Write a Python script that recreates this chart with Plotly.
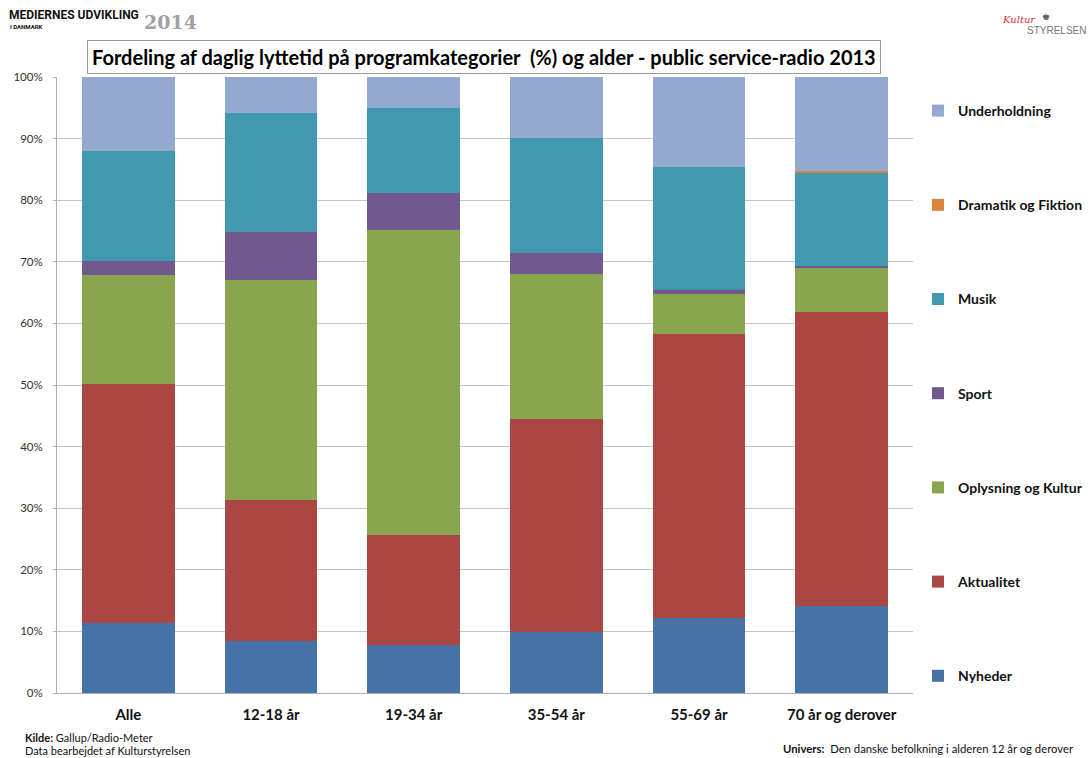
import plotly.graph_objects as go

# Age groups and the share (%) of daily listening time per programme category
groups = ["Alle", "12-18 år", "19-34 år", "35-54 år", "55-69 år", "70 år og derover"]

nyheder = [11.3, 8.4, 7.8, 9.9, 12.2, 14.1]
aktualitet = [38.8, 22.9, 17.8, 34.6, 46.1, 47.7]
oplysning = [17.8, 35.7, 49.5, 23.5, 6.4, 7.2]
sport = [2.3, 7.9, 6.1, 3.4, 0.8, 0.3]
musik = [17.8, 19.3, 13.7, 18.7, 19.9, 15.2]
dramatik = [0.0, 0.0, 0.0, 0.0, 0.0, 0.2]
underholdning = [12.0, 5.8, 5.1, 9.9, 14.6, 15.3]

y_ticks = [0, 10, 20, 30, 40, 50, 60, 70, 80, 90, 100]
y_tick_labels = [f"{v}%" for v in y_ticks]

series = [
    ("Nyheder", nyheder, "#4572a7"),
    ("Aktualitet", aktualitet, "#aa4643"),
    ("Oplysning og Kultur", oplysning, "#89a54e"),
    ("Sport", sport, "#71588f"),
    ("Musik", musik, "#4198af"),
    ("Dramatik og Fiktion", dramatik, "#db843d"),
    ("Underholdning", underholdning, "#93a9cf"),
]

fig = go.Figure()
n = len(series)
for i, (name, vals, color) in enumerate(series):
    fig.add_trace(go.Bar(
        x=groups, y=vals, name=name, legendgroup=name,
        legendrank=n - i,  # top of the stack listed first
        marker=dict(color=color, line=dict(width=0)),
        hovertemplate="%{x}: %{y:.1f}%<extra>" + name + "</extra>",
    ))

W, H = 1091, 758
L, R, T, B = 57, 178, 77, 65
PW = W - L - R


def px_x(x):
    """Horizontal page pixel -> paper coordinate."""
    return (x - L) / PW


fig.update_layout(
    width=W, height=H,
    margin=dict(l=L, r=R, t=T, b=B, autoexpand=False),
    barmode="stack",
    bargap=0.35,
    paper_bgcolor="white",
    plot_bgcolor="white",
    font=dict(family="Lato, 'Open Sans', sans-serif", color="#000000"),
    legend=dict(
        x=px_x(918), xanchor="left", y=1 - (95 - T) / (H - T - B), yanchor="top",
        traceorder="grouped",
        tracegroupgap=73,
        font=dict(size=14, color="#111111", weight="bold"),
        itemwidth=30,
        bgcolor="rgba(0,0,0,0)",
    ),
    xaxis=dict(
        tickfont=dict(size=15, color="#111111", weight="bold"),
        showline=True, linecolor="#b0b0b0", linewidth=1,
        ticks="", showgrid=False, ticklabelstandoff=8,
    ),
    yaxis=dict(
        range=[0, 100],
        tickvals=y_ticks, ticktext=y_tick_labels,
        tickfont=dict(size=11.5, color="#333333"),
        showgrid=True, gridcolor="#c4c4c4", gridwidth=1,
        showline=True, linecolor="#b0b0b0", linewidth=1,
        ticks="outside", ticklen=3, tickcolor="#b0b0b0",
        ticklabelstandoff=8,
        zeroline=False,
    ),
)

# Boxed chart title
fig.add_annotation(
    xref="paper", yref="paper", x=px_x(484), y=1.0, yshift=20,
    xanchor="center", yanchor="middle",
    text="<b>Fordeling af daglig lyttetid på programkategorier  (%) og alder - public service-radio 2013</b>",
    showarrow=False,
    font=dict(size=20, color="#000000", family="Lato, sans-serif"),
    bordercolor="#9a9a9a", borderwidth=1, borderpad=4, bgcolor="white",
)

# Publication header (top left)
fig.add_annotation(
    xref="paper", yref="paper", x=px_x(7), y=1.0,
    yshift=T - 15, xanchor="left", yanchor="middle",
    text="<b>MEDIERNES UDVIKLING</b>",
    showarrow=False, font=dict(size=12, color="#111111", family="Roboto, sans-serif"),
)
fig.add_annotation(
    xref="paper", yref="paper", x=px_x(8), y=1.0,
    yshift=T - 26, xanchor="left", yanchor="middle",
    text="<b>I DANMARK</b>",
    showarrow=False, font=dict(size=6, color="#111111", family="Roboto, sans-serif"),
)
fig.add_annotation(
    xref="paper", yref="paper", x=px_x(142), y=1.0,
    yshift=T - 22, xanchor="left", yanchor="middle",
    text="<b>2014</b>",
    showarrow=False, font=dict(size=19, color="#a0a0a0", family="DejaVu Serif, serif"),
)

# Kulturstyrelsen mark (top right)
fig.add_annotation(
    xref="paper", yref="paper", x=px_x(1038), y=1.0,
    yshift=T - 19, xanchor="right", yanchor="middle",
    text="<i>Kultur</i>",
    showarrow=False, font=dict(size=10, color="#e0303a", family="DejaVu Serif, serif"),
)
fig.add_annotation(
    xref="paper", yref="paper", x=px_x(1046), y=1.0,
    yshift=T - 16, xanchor="center", yanchor="middle",
    text="♚",
    showarrow=False, font=dict(size=9, color="#555555"),
)
fig.add_annotation(
    xref="paper", yref="paper", x=px_x(1088), y=1.0,
    yshift=T - 30, xanchor="right", yanchor="middle",
    text="STYRELSEN",
    showarrow=False, font=dict(size=10, color="#777777", family="Liberation Sans, sans-serif"),
)

# Source notes (bottom)
fig.add_annotation(
    xref="paper", yref="paper", x=px_x(23), y=0,
    yshift=-(737 - (H - B)), xanchor="left", yanchor="middle",
    text="<b>Kilde:</b> Gallup/Radio-Meter",
    showarrow=False, font=dict(size=11, color="#111111", family="Lato, sans-serif"),
)
fig.add_annotation(
    xref="paper", yref="paper", x=px_x(23), y=0,
    yshift=-(750 - (H - B)), xanchor="left", yanchor="middle",
    text="Data bearbejdet af Kulturstyrelsen",
    showarrow=False, font=dict(size=11, color="#111111", family="Lato, sans-serif"),
)
fig.add_annotation(
    xref="paper", yref="paper", x=px_x(1076), y=0,
    yshift=-(748 - (H - B)), xanchor="right", yanchor="middle",
    text="<b>Univers:</b>  Den danske befolkning i alderen 12 år og derover",
    showarrow=False, font=dict(size=11.3, color="#111111", family="Lato, sans-serif"),
)

fig.write_html("out.html")
